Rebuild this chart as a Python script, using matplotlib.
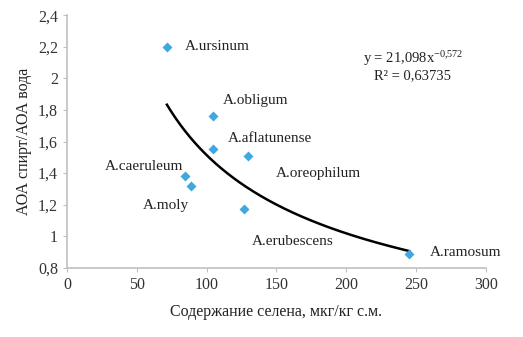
import numpy as np
import matplotlib.pyplot as plt

plt.rcParams['font.family'] = ['Liberation Serif', 'DejaVu Serif']
plt.rcParams['mathtext.fontset'] = 'custom'
plt.rcParams['mathtext.rm'] = 'Liberation Serif'

# данные
species = ['A.ursinum', 'A.obligum', 'A.aflatunense', 'A.oreophilum',
           'A.caeruleum', 'A.moly', 'A.erubescens', 'A.ramosum']
selen = [71.6, 104.5, 104.5, 129.5, 84.5, 88.5, 126.5, 245]
ratio = [2.20, 1.76, 1.55, 1.51, 1.38, 1.32, 1.17, 0.89]

# сдвиги подписей (точки) и выравнивание
offsets = [(13, 0, 'left'), (7, 11, 'left'), (11, 8, 'left'), (20, -13, 'left'),
           (-1, 7, 'right'), (-1, -14, 'right'), (6, -23, 'left'), (15, 1, 'left')]

a, b = 21.098, -0.572

fig = plt.figure(figsize=(5.23, 3.37), dpi=100)
ax = fig.add_axes([0.128, 0.205, 0.801, 0.75])

ax.scatter(selen, ratio, marker='D', s=26, c='#3fa9df', zorder=3, linewidths=0)

xt = np.linspace(min(selen), max(selen), 200)
ax.plot(xt, a * xt ** b, color='black', lw=1.8, zorder=2)

for name, x, y, (dx, dy, ha) in zip(species, selen, ratio, offsets):
    ax.annotate(name, (x, y), xytext=(dx, dy), textcoords='offset points',
                ha=ha, va='center', fontsize=11, color='#222222')

ax.text(0.825, 0.80, 'y = 21,098x$\\mathregular{^{-0{,}572}}$\nR² = 0,63735',
        transform=ax.transAxes, ha='center', va='center', fontsize=10.5,
        color='#222222', linespacing=1.15)

ax.set_xlim(0, 300)
ax.set_ylim(0.8, 2.4)
ax.set_xticks([0, 50, 100, 150, 200, 250, 300])
ax.set_yticks([0.8, 1, 1.2, 1.4, 1.6, 1.8, 2, 2.2, 2.4])
ax.set_xticklabels(['0', '50', '100', '150', '200', '250', '300'])
ax.set_yticklabels(['0,8', '1', '1,2', '1,4', '1,6', '1,8', '2', '2,2', '2,4'])

for s in ['top', 'right']:
    ax.spines[s].set_visible(False)
for s in ['left', 'bottom']:
    ax.spines[s].set_color('#c0c0c0')
    ax.spines[s].set_linewidth(1.2)
ax.tick_params(colors='#c0c0c0', labelcolor='#333333', labelsize=11.5, length=3)

ax.set_xlabel('Содержание селена, мкг/кг с.м.', fontsize=11.5, color='#222222', labelpad=8)
ax.set_ylabel('АОА спирт/АОА вода', fontsize=11.5, color='#222222', labelpad=4)

fig.savefig('out.png', dpi=100)
